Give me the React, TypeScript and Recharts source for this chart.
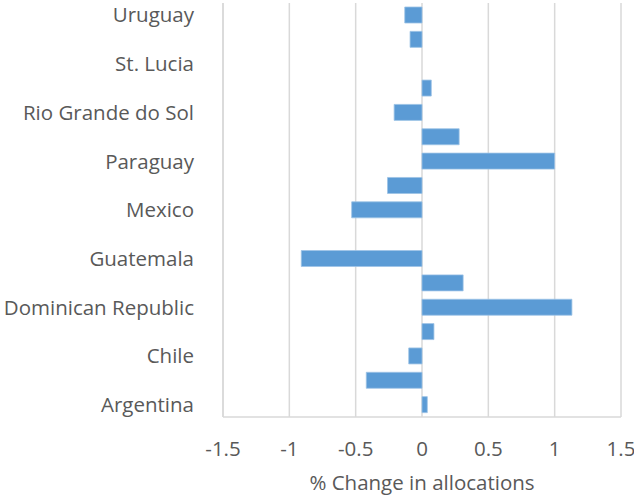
import React from 'react';
import {
    BarChart,
    Bar,
    XAxis,
    YAxis,
    CartesianGrid
} from 'recharts';

// rows top to bottom, labels only on every other row (like the original)
const categories = [
    'Uruguay', '', 'St. Lucia', '', 'Rio Grande do Sol', '', 'Paraguay', '',
    'Mexico', '', 'Guatemala', '', 'Dominican Republic', '', 'Chile', '', 'Argentina'
];
const changes = [
    -0.13, -0.09, 0, 0.07, -0.21, 0.28, 1.0, -0.26,
    -0.53, 0, -0.91, 0.31, 1.13, 0.09, -0.1, -0.42, 0.04
];
const xTicks = [-1.5, -1, -0.5, 0, 0.5, 1, 1.5];

const FONT = '"Open Sans", sans-serif';
const TEXT = '#595959';
const GRID = '#d9d9d9';
const FS = 20.5;

const App: React.FC = () => {
    const data = categories.map((name, i) => ({ id: i, name, value: changes[i] }));

    return (
        <div style={{ position: 'absolute', left: 0, top: 0, background: '#fff' }}>
            <BarChart
                width={634}
                height={496}
                data={data}
                layout="vertical"
                margin={{ top: 3, right: 13, bottom: 0, left: 0 }}
                barSize={16}
                style={{ fontFamily: FONT }}
            >
                <CartesianGrid horizontal={false} stroke={GRID} strokeWidth={1.5} />
                <XAxis
                    type="number"
                    domain={[-1.5, 1.5]}
                    ticks={xTicks}
                    height={79}
                    tickLine={false}
                    tickSize={0}
                    tickMargin={24}
                    axisLine={{ stroke: GRID, strokeWidth: 1.5 }}
                    tick={{ fill: TEXT, fontSize: FS }}
                    label={{ value: '% Change in allocations', position: 'insideBottom', offset: 6, fill: TEXT, fontSize: FS }}
                />
                <YAxis
                    type="category"
                    dataKey="id"
                    width={223}
                    interval={0}
                    tickLine={false}
                    tickSize={0}
                    tickMargin={29}
                    axisLine={{ stroke: GRID, strokeWidth: 1.5 }}
                    tickFormatter={(v: number) => categories[v]}
                    tick={{ fill: TEXT, fontSize: FS }}
                />
                <Bar dataKey="value" fill="#5b9bd5" stroke="#9dc3e6" strokeWidth={0.8} isAnimationActive={false} />
            </BarChart>
        </div>
    );
};

export default App;
